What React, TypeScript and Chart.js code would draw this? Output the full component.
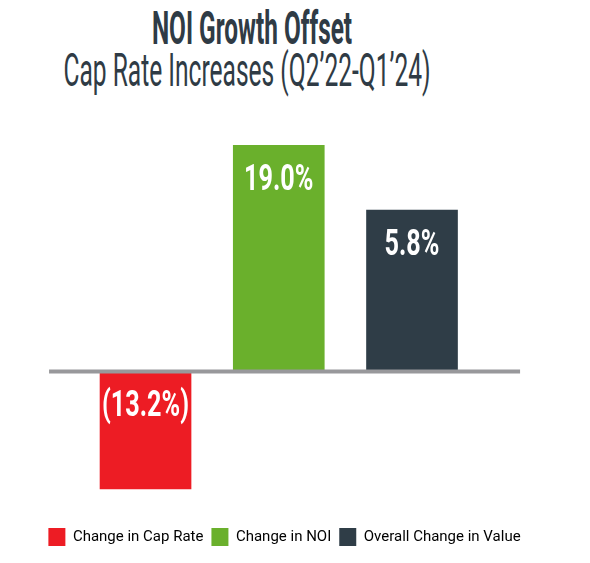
import { useEffect, useRef } from 'react';
import { Chart, registerables } from 'chart.js';

Chart.register(...registerables);

const categories = ['Change in Cap Rate', 'Change in NOI', 'Overall Change in Value'];
const slots = [1, 2, 3];
// percentages printed on the bars
const reportedPct = [-13.2, 19.0, 5.8];
// the graphic is not drawn to scale: heights as drawn, in units where the NOI bar = 19.0
const drawnHeights = [-9.86, 19.0, 13.55];
const barColors = ['#ed1c24', '#6ab02c', '#2f3d47'];
// x range (in slot units) covered by the grey baseline
const baselineSpan = [0.276, 3.811];

const TEXT_DARK = '#2f3b45';

function fmtPct(v: number) {
  return v < 0 ? `(${Math.abs(v).toFixed(1)}%)` : `${v.toFixed(1)}%`;
}

const zeroLine = {
  id: 'zeroLine',
  afterDatasetsDraw(chart: Chart) {
    const { ctx, scales } = chart;
    const y = scales.y.getPixelForValue(0);
    ctx.save();
    ctx.strokeStyle = '#98989b';
    ctx.lineWidth = 4;
    ctx.beginPath();
    ctx.moveTo(scales.x.getPixelForValue(baselineSpan[0]), y);
    ctx.lineTo(scales.x.getPixelForValue(baselineSpan[1]), y);
    ctx.stroke();
    ctx.restore();
  }
};

const barValues = {
  id: 'barValues',
  afterDatasetsDraw(chart: Chart) {
    const { ctx } = chart;
    const meta = chart.getDatasetMeta(0);
    meta.data.forEach((bar: any, i: number) => {
      const { x, y, base } = bar.getProps(['x', 'y', 'base'], true);
      const top = Math.min(y, base);
      ctx.save();
      ctx.translate(x, top + 45);
      ctx.scale(0.7, 1);
      ctx.font = 'bold 36px Roboto';
      ctx.fillStyle = '#ffffff';
      ctx.textAlign = 'center';
      ctx.textBaseline = 'alphabetic';
      ctx.fillText(fmtPct(reportedPct[i]), 0, 0);
      ctx.restore();
    });
  }
};

export default function App() {
  const canvasRef = useRef<HTMLCanvasElement>(null);

  useEffect(() => {
    document.body.style.margin = '0';
    if (!canvasRef.current) return;
    const chart = new Chart(canvasRef.current, {
      type: 'bar',
      data: {
        datasets: [{
          label: 'Change',
          data: slots.map((s, i) => ({ x: s, y: drawnHeights[i] })),
          backgroundColor: barColors,
          borderWidth: 0,
          barThickness: 91
        }]
      },
      options: {
        responsive: true,
        maintainAspectRatio: false,
        animation: false,
        layout: { padding: { top: 145, left: 40, right: 61, bottom: 7 } },
        plugins: {
          tooltip: { enabled: false },
          legend: {
            position: 'bottom',
            labels: {
              boxWidth: 17,
              boxHeight: 18,
              padding: 8,
              color: '#333333',
              font: { family: 'Roboto', size: 15 },
              generateLabels: () => categories.map((text, i) => ({
                text,
                fillStyle: barColors[i],
                strokeStyle: barColors[i],
                lineWidth: 0,
                hidden: false,
                datasetIndex: 0,
                index: i
              }))
            }
          }
        },
        scales: {
          x: { type: 'linear', display: false, offset: false, min: 0.208, max: 3.878 },
          y: { display: false, min: -12.46, max: 19 }
        }
      },
      plugins: [zeroLine, barValues]
    });
    return () => chart.destroy();
  }, []);

  const titleBase: React.CSSProperties = {
    position: 'absolute',
    whiteSpace: 'nowrap',
    color: TEXT_DARK,
    fontFamily: 'Roboto',
    fontSize: '46px',
    lineHeight: '46px',
    transformOrigin: 'center top'
  };

  return (
    <div style={{ position: 'relative', width: 590, height: 563, background: '#fff' }}>
      <div style={{ ...titleBase, left: 252, top: 5, fontWeight: 700, transform: 'translateX(-50%) scaleX(0.53)' }}>
        NOI Growth Offset
      </div>
      <div style={{ ...titleBase, left: 247, top: 47, fontWeight: 400, transform: 'translateX(-50%) scaleX(0.534)' }}>
        Cap Rate Increases (Q2’22-Q1’24)
      </div>
      <div style={{ position: 'absolute', left: 0, top: 0, width: 590, height: 563 }}>
        <canvas ref={canvasRef} />
      </div>
    </div>
  );
}
